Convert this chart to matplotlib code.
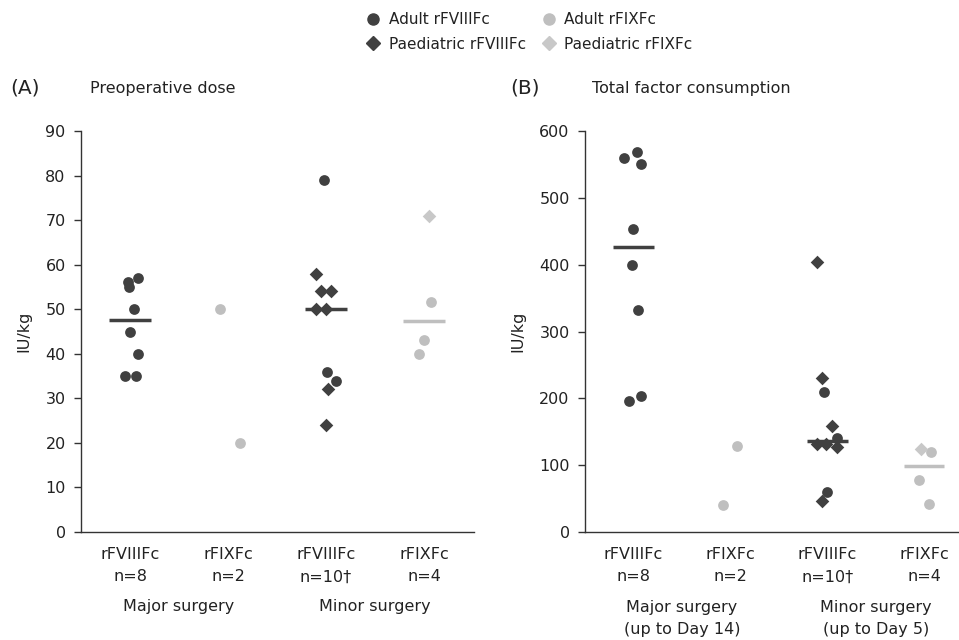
import numpy as np
import matplotlib
matplotlib.use('Agg')
import matplotlib.pyplot as plt
from matplotlib.lines import Line2D

plt.rcParams['font.family'] = ['DejaVu Sans']

dark = '#404040'
light = '#bfbfbf'
light_d = '#c8c8c8'

cat_labels = ['rFVIIIFc\nn=8', 'rFIXFc\nn=2', 'rFVIIIFc\nn=10\u2020', 'rFIXFc\nn=4']

# ---- (A) preoperative dose, IU/kg ----
a_maj8_adult = [57, 56, 55, 50, 45, 40, 35, 35]
a_maj9_adult = [50, 20]
a_min8_adult = [79, 36, 34]
a_min8_paed = [58, 54, 54, 50, 50, 32, 24]
a_min9_adult = [51.7, 43, 40]
a_min9_paed = [71]

# ---- (B) total factor consumption, IU/kg ----
b_maj8_adult = [560, 568, 550, 454, 400, 332, 196, 203]
b_maj9_adult = [129, 40]
b_min8_adult = [210, 141, 60]
b_min8_paed = [404, 231, 159, 132, 132, 127, 47]
b_min9_adult = [119, 78, 42]
b_min9_paed = [124]

# horizontal jitter (category units)
ja = {
    'maj8': [0.08, -0.02, -0.01, 0.04, 0.0, 0.08, -0.05, 0.06],
    'maj9': [-0.08, 0.12],
    'min8a': [-0.02, 0.01, 0.10],
    'min8p': [-0.10, -0.05, 0.05, -0.10, 0.0, 0.02, 0.0],
    'min9a': [0.07, 0.0, -0.05],
    'min9p': [0.05],
}
jb = {
    'maj8': [-0.10, 0.04, 0.08, 0.0, -0.02, 0.05, -0.05, 0.08],
    'maj9': [0.07, -0.08],
    'min8a': [-0.03, 0.10, 0.0],
    'min8p': [-0.11, -0.05, 0.05, -0.11, -0.01, 0.10, -0.05],
    'min9a': [0.07, -0.05, 0.05],
    'min9p': [-0.03],
}

fig = plt.figure(figsize=(9.59, 6.4), dpi=100)
fig.patch.set_facecolor('white')

ax1 = fig.add_axes([81/959, 1-532/640, (474-81)/959, 401/640])
ax2 = fig.add_axes([585/959, 1-532/640, (959-585)/959, 401/640])


def panel(ax, groups, jit, ymax, ystep, xlim, sub):
    msz_c = 60
    msz_d = 48
    for pos, (vals_a, vals_p, col, colp, ka, kp) in enumerate(groups, start=1):
        ax.scatter(pos + np.array(jit[ka]), vals_a, s=msz_c, marker='o', color=col,
                   zorder=3, linewidths=0)
        if vals_p is not None:
            ax.scatter(pos + np.array(jit[kp]), vals_p, s=msz_d, marker='D', color=colp,
                       zorder=3, linewidths=0)
        allv = list(vals_a) + (list(vals_p) if vals_p is not None else [])
        if len(allv) > 2:
            ax.hlines(np.median(allv), pos - 0.21, pos + 0.21, color=col, lw=2.5, zorder=2)
    ax.set_xlim(*xlim)
    ax.set_ylim(0, ymax)
    ax.set_yticks(np.arange(0, ymax + 1, ystep))
    ax.set_xticks([1, 2, 3, 4])
    ax.set_xticklabels(cat_labels, fontsize=11.5, linespacing=1.6, color='#222222')
    ax.tick_params(axis='x', length=0, pad=11)
    ax.tick_params(axis='y', direction='out', length=5, width=1, color='#333333',
                   labelsize=11.5, labelcolor='#222222', pad=6)
    for s in ['top', 'right']:
        ax.spines[s].set_visible(False)
    for s in ['left', 'bottom']:
        ax.spines[s].set_color('#333333')
        ax.spines[s].set_linewidth(1.0)
    tr = ax.get_xaxis_transform()
    ax.text(1.5, sub[0][1], sub[0][0], transform=tr, ha='center', va='center',
            fontsize=11.5, linespacing=1.55, color='#222222')
    ax.text(3.5, sub[1][1], sub[1][0], transform=tr, ha='center', va='center',
            fontsize=11.5, linespacing=1.55, color='#222222')


panel(ax1,
      [(a_maj8_adult, None, dark, dark, 'maj8', None),
       (a_maj9_adult, None, light, light, 'maj9', None),
       (a_min8_adult, a_min8_paed, dark, dark, 'min8a', 'min8p'),
       (a_min9_adult, a_min9_paed, light, light_d, 'min9a', 'min9p')],
      ja, 90, 10, (0.5, 4.51),
      [('Major surgery', -0.187), ('Minor surgery', -0.187)])

panel(ax2,
      [(b_maj8_adult, None, dark, dark, 'maj8', None),
       (b_maj9_adult, None, light, light, 'maj9', None),
       (b_min8_adult, b_min8_paed, dark, dark, 'min8a', 'min8p'),
       (b_min9_adult, b_min9_paed, light, light_d, 'min9a', 'min9p')],
      jb, 600, 100, (0.5, 4.36),
      [('Major surgery\n(up to Day 14)', -0.215), ('Minor surgery\n(up to Day 5)', -0.215)])

ax1.set_ylabel('IU/kg', fontsize=11.5, color='#222222', labelpad=10)
ax2.set_ylabel('IU/kg', fontsize=11.5, color='#222222', labelpad=10)

fig.text(10/959, 1-88/640, '(A)', fontsize=14.5, va='center', color='#222222')
fig.text(90/959, 1-88/640, 'Preoperative dose', fontsize=11.5, va='center', color='#222222')
fig.text(510/959, 1-88/640, '(B)', fontsize=14.5, va='center', color='#222222')
fig.text(592/959, 1-88/640, 'Total factor consumption', fontsize=11.5, va='center', color='#222222')

handles = [
    Line2D([], [], marker='o', ls='none', color=dark, markersize=8, label='Adult rFVIIIFc'),
    Line2D([], [], marker='D', ls='none', color=dark, markersize=7, label='Paediatric rFVIIIFc'),
    Line2D([], [], marker='o', ls='none', color=light, markersize=8, label='Adult rFIXFc'),
    Line2D([], [], marker='D', ls='none', color=light_d, markersize=7, label='Paediatric rFIXFc'),
]
fig.legend(handles=handles, ncol=2, loc='center', bbox_to_anchor=(529/959, 1-32/640),
           frameon=False, fontsize=11, handlelength=1.0, handletextpad=0.5,
           columnspacing=1.0, labelspacing=0.6, labelcolor='#222222')

plt.savefig('out.png', dpi=100, facecolor='white')
